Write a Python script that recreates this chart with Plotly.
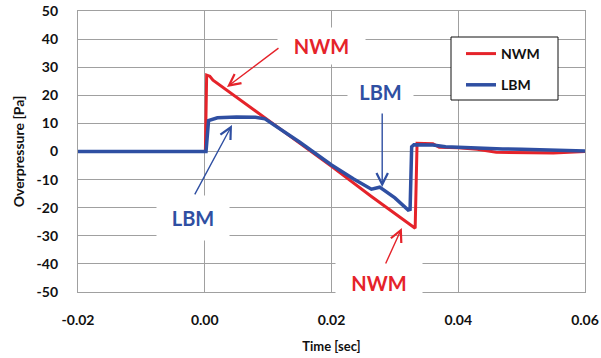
import plotly.graph_objects as go

# ---- data ----
t_nwm = [-0.02, 0.0, 0.0001, 0.0003, 0.0008, 0.0013, 0.0098, 0.015, 0.020, 0.0263,
         0.0332, 0.0335, 0.036, 0.037, 0.040, 0.043, 0.046, 0.055, 0.060]
p_nwm = [0.0, 0.0, 0.0, 27.2, 26.8, 25.4, 11.4, 3.0, -5.3, -16.0,
         -27.3, 2.9, 2.8, 1.5, 1.3, 0.8, -0.3, -0.5, 0.0]

t_lbm = [-0.02, 0.0, 0.0002, 0.0006, 0.002, 0.005, 0.008, 0.0095, 0.015, 0.020,
         0.0235, 0.0263, 0.0276, 0.0300, 0.0321, 0.0324, 0.03265, 0.033, 0.036,
         0.038, 0.040, 0.045, 0.047, 0.050, 0.055, 0.060]
p_lbm = [0.0, 0.0, 0.0, 11.0, 12.0, 12.3, 12.2, 11.6, 3.3, -4.8,
         -9.8, -13.4, -12.7, -16.5, -20.8, -20.6, 1.7, 2.4, 2.3,
         1.7, 1.5, 1.1, 0.9, 0.8, 0.5, 0.2]

x_ticks = [-0.02, 0.0, 0.02, 0.04, 0.06]
x_tick_text = ["-0.02", "0.00", "0.02", "0.04", "0.06"]
y_ticks = [-50, -40, -30, -20, -10, 0, 10, 20, 30, 40, 50]
y_tick_text = ["-50", "-40", "-30", "-20", "-10", "0", "10", "20", "30", "40", "50"]

RED = "#E5232A"
BLUE = "#2F4FA2"
GRID = "#A0A0A0"
FONT = "Lato"

fig = go.Figure()
fig.add_trace(go.Scatter(x=t_nwm, y=p_nwm, mode="lines", name="<b>NWM</b>",
                         line=dict(color=RED, width=3), legendgroup="a"))
fig.add_trace(go.Scatter(x=t_lbm, y=p_lbm, mode="lines", name="<b>LBM</b>",
                         line=dict(color=BLUE, width=3.5), legendgroup="b"))

L, R, T, B = 78, 585, 11, 292
def px_x(p): return (p - L) / (R - L)
def px_y(p): return (B - p) / (B - T)

# legend frame
fig.add_shape(type="rect", xref="paper", yref="paper",
              x0=px_x(451), x1=px_x(558), y0=px_y(100), y1=px_y(37),
              line=dict(color="#111111", width=1), fillcolor="white", layer="above")

def label(text, x, y, color, w, h):
    fig.add_annotation(x=x, y=y, xref="x", yref="y", text="<b>%s</b>" % text,
                       showarrow=False, bgcolor="white", width=w, height=h,
                       font=dict(family=FONT, size=20, color=color))

def arrow(x0, y0, x1, y1, color):
    fig.add_annotation(x=x1, y=y1, ax=x0, ay=y0, xref="x", yref="y",
                       axref="x", ayref="y", text="", showarrow=True,
                       arrowhead=5, arrowsize=1.6, arrowwidth=1.4, arrowcolor=color,
                       standoff=0, startstandoff=0)

label("NWM", 0.0185, 37.5, RED, 85, 34)
label("LBM", 0.0278, 21.2, BLUE, 63, 30)
label("LBM", -0.00185, -23.7, BLUE, 70, 42)
label("NWM", 0.0275, -46.8, RED, 84, 42)

arrow(0.01187, 37.2, 0.00351, 22.95, RED)
arrow(0.028, 14.06, 0.028, -12.6, BLUE)
arrow(-0.0017, -15.8, 0.0043, 9.4, BLUE)
arrow(0.02844, -40.4, 0.0311, -27.2, RED)

fig.update_layout(
    width=601, height=358,
    margin=dict(l=L, r=601 - R, t=T, b=358 - B, autoexpand=False),
    paper_bgcolor="white", plot_bgcolor="white",
    font=dict(family=FONT, color="#111111"),
    showlegend=True,
    legend=dict(x=px_x(461), y=px_y(38), xanchor="left", yanchor="top",
                bgcolor="rgba(0,0,0,0)", borderwidth=0,
                font=dict(family=FONT, size=14, color="#111111"),
                tracegroupgap=10, traceorder="grouped",
                itemwidth=30),
)

fig.update_xaxes(range=[-0.02, 0.06], tickvals=x_ticks,
                 ticktext=["<b>%s</b>" % s for s in x_tick_text],
                 showgrid=True, gridcolor=GRID, gridwidth=1.3,
                 showline=True, linecolor=GRID, linewidth=1.3, mirror=True,
                 zeroline=False, ticks="", ticklabelstandoff=15, automargin=False,
                 tickfont=dict(family=FONT, size=14, color="#111111"),
                 title=dict(text="<b>Time [sec]</b>", standoff=14,
                            font=dict(family=FONT, size=13, color="#111111")))
fig.update_yaxes(range=[-50, 50], tickvals=y_ticks,
                 ticktext=["<b>%s</b>" % s for s in y_tick_text],
                 showgrid=True, gridcolor=GRID, gridwidth=1.3,
                 showline=True, linecolor=GRID, linewidth=1.3, mirror=True,
                 zeroline=False, ticks="", ticklabelstandoff=16, automargin=False,
                 tickfont=dict(family=FONT, size=14, color="#111111"),
                 title=dict(text="<b>Overpressure [Pa]</b>", standoff=8,
                            font=dict(family=FONT, size=14, color="#111111")))

fig.write_html("out.html")
